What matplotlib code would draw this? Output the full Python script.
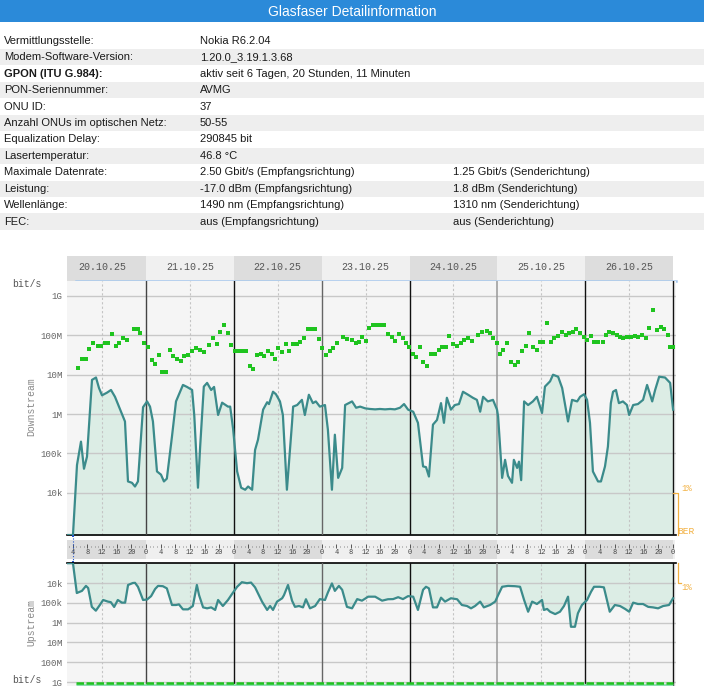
import matplotlib
matplotlib.use("Agg")
import matplotlib.pyplot as plt
from matplotlib.patches import Rectangle
from matplotlib.ticker import NullLocator

plt.rcParams['font.family'] = ['Liberation Sans', 'DejaVu Sans']
MONO = ['Liberation Mono', 'DejaVu Sans Mono']

W, H = 704, 691

# --- table ---
row_labels = ["Vermittlungsstelle:", "Modem-Software-Version:", "GPON (ITU G.984):",
              "PON-Seriennummer:", "ONU ID:", "Anzahl ONUs im optischen Netz:",
              "Equalization Delay:", "Lasertemperatur:", "Maximale Datenrate:",
              "Leistung:", "Wellenlänge:", "FEC:"]
row_values = ["Nokia R6.2.04", "1.20.0_3.19.1.3.68", "aktiv seit 6 Tagen, 20 Stunden, 11 Minuten",
              "AVMG", "37", "50-55", "290845 bit", "46.8 °C",
              "2.50 Gbit/s (Empfangsrichtung)", "-17.0 dBm (Empfangsrichtung)",
              "1490 nm (Empfangsrichtung)", "aus (Empfangsrichtung)"]
row_extra = ["", "", "", "", "", "", "", "",
             "1.25 Gbit/s (Senderichtung)", "1.8 dBm (Senderichtung)",
             "1310 nm (Senderichtung)", "aus (Senderichtung)"]

# --- chart ---
day_labels = ["20.10.25", "21.10.25", "22.10.25", "23.10.25", "24.10.25", "25.10.25", "26.10.25"]
ds_ticks = [1e4, 1e5, 1e6, 1e7, 1e8, 1e9]
ds_ticklabels = ["10k", "100k", "1M", "10M", "100M", "1G"]

# hours since 20.10.25 00:00
ds_hours = [2.4, 4.05, 5.15, 6.24, 7.06, 7.88, 9.25, 10.34, 11.16, 11.98, 13.34, 14.44, 15.53, 16.62,
            18.26, 19.08, 20.17, 21.0, 21.8, 23.2, 24.3, 25.1, 25.9, 27.0, 28.1, 28.9, 29.7, 31.1,
            32.2, 33.3, 34.1, 35.2, 36.6, 37.2, 38.2, 38.8, 39.8, 40.7, 41.8, 42.6, 43.7, 44.8,
            46.4, 47.0, 47.8, 48.9, 50.0, 51.1, 51.9, 53.0, 53.8, 54.6, 56.0, 57.1, 57.6, 58.7,
            59.5, 60.6, 61.4, 62.5, 63.9, 64.2, 65.3, 66.6, 67.4, 68.5, 69.6, 70.4, 71.5, 72.9,
            73.7, 74.8, 75.6, 76.5, 77.6, 78.4, 80.3, 81.4, 82.5, 83.9, 85.2, 86.6, 87.9, 89.3,
            90.7, 92.0, 93.4, 94.5, 95.6, 97.0, 98.3, 99.7, 100.5, 101.3, 102.4, 103.5, 104.6,
            105.4, 106.2, 107.3, 108.4, 109.5, 110.6, 112.0, 113.3, 114.4, 115.3, 116.1, 117.4,
            118.8, 119.9, 120.2, 121.3, 122.1, 122.9, 124.0, 124.5, 125.4, 125.9, 126.5, 127.3,
            128.4, 129.7, 130.8, 132.2, 133.0, 134.4, 135.2, 136.6, 137.7, 139.3, 140.4, 141.8,
            142.6, 143.7, 144.5, 145.3, 146.1, 147.5, 148.3, 149.4, 150.2, 151.0, 151.6, 152.4,
            153.2, 154.3, 155.4, 156.0, 157.1, 158.4, 159.8, 160.9, 162.3, 163.1, 164.2, 165.8,
            167.2, 168.0]
ds_kbit = [0.85, 0.85, 51, 200, 41, 83, 7400, 8500, 4600, 3000, 3500, 4100, 2750, 1550,
           650, 19.5, 18, 14.5, 19.5, 1500, 2100, 1550, 650, 35, 29, 19.5, 23, 270,
           2100, 3700, 5500, 4900, 4100, 900, 13.5, 150, 5000, 6200, 4100, 4900, 950, 1950,
           1550, 1550, 420, 35, 13.5, 12, 14.5, 12, 123, 224, 1300, 2000, 1800, 3700,
           3200, 2100, 950, 12, 600, 1550, 1700, 2300, 950, 3100, 1900, 2100, 1550, 1700,
           400, 12, 300, 24, 43, 1700, 2100, 1450, 1550, 1400, 1350, 1320, 1350, 1320,
           1350, 1320, 1450, 1800, 1300, 1150, 600, 47, 45, 26, 540, 710, 1900,
           600, 2600, 1300, 1700, 1800, 3700, 3100, 2600, 2300, 1150, 2750, 2100,
           2300, 1300, 870, 24, 69, 27, 18, 69, 43, 62, 21, 2100,
           1700, 2100, 2750, 1070, 5000, 6800, 10000, 8900, 4600, 650, 2300, 2100,
           2750, 3200, 2300, 600, 35, 19.5, 19.5, 47, 150, 1900, 3700, 4100,
           1900, 2100, 1700, 950, 1700, 1800, 2300, 5500, 2100, 4100, 8900, 8500,
           6200, 1300]

gr_hours = [5.4, 6.5, 7.6, 8.4, 9.5, 10.9, 11.7, 12.8, 13.6, 14.7, 15.8, 16.6, 17.7, 18.8, 20.7,
            21.8, 22.4, 23.5, 24.5, 25.6, 26.5, 27.6, 28.4, 29.5, 30.6, 31.4, 32.5, 33.6, 34.4,
            35.5, 36.6, 37.7, 38.8, 39.8, 41.2, 42.3, 43.4, 44.2, 45.3, 46.4, 47.2, 48.3, 49.1,
            50.2, 51.3, 52.4, 53.2, 54.3, 55.4, 56.2, 57.3, 58.4, 59.2, 60.1, 61.2, 62.3, 63.1,
            64.2, 65.3, 66.1, 67.2, 68.3, 69.4, 70.2, 71.3, 72.1, 73.2, 74.3, 75.1, 76.2, 77.8,
            78.9, 80.3, 81.4, 82.2, 83.0, 84.1, 84.9, 86.0, 87.1, 88.2, 89.0, 90.1, 91.2, 92.0,
            93.1, 94.2, 95.0, 95.9, 97.0, 97.8, 98.9, 99.7, 100.8, 101.9, 103.0, 104.1, 104.9,
            106.0, 106.8, 107.9, 109.0, 110.1, 110.9, 112.0, 113.1, 114.7, 115.8, 117.2, 118.0,
            118.8, 119.9, 120.7, 121.5, 122.6, 123.7, 124.8, 125.6, 126.7, 127.8, 128.6, 129.7,
            130.8, 131.7, 132.5, 133.6, 134.7, 135.5, 136.6, 137.7, 138.8, 139.6, 140.7, 141.5,
            142.6, 143.7, 144.5, 145.6, 146.4, 147.5, 148.9, 149.7, 150.5, 151.6, 152.7, 153.5,
            154.3, 155.4, 156.5, 157.6, 158.4, 159.5, 160.6, 161.4, 162.5, 163.6, 164.7, 165.5,
            166.6, 167.2, 168.0]
gr_mbit = [15, 25, 25, 45, 63, 54, 54, 65, 65, 110, 55, 63, 87, 76, 145,
           145, 115, 65, 50, 24, 19, 32, 12, 12, 43, 30, 25, 22, 30,
           32, 39, 48, 43, 38, 58, 87, 60, 123, 182, 115, 58, 41, 40,
           40, 41, 17, 14, 32, 33, 30, 41, 33, 25, 48, 38, 60, 40,
           60, 60, 69, 85, 148, 148, 148, 81, 49, 32, 40, 49, 63, 91,
           81, 76, 63, 69, 91, 72, 151, 182, 182, 182, 182, 110, 91, 72,
           110, 85, 65, 50, 33, 29, 51, 21, 17, 33, 33, 43, 50,
           51, 98, 60, 54, 65, 76, 85, 72, 102, 123, 129, 117,
           87, 63, 33, 43, 63, 21, 18, 21, 41, 54, 115, 51,
           43, 68, 68, 204, 68, 85, 95, 123, 102, 115, 123, 145,
           117, 91, 74, 95, 68, 68, 68, 102, 123, 115, 102, 93,
           85, 91, 93, 95, 91, 102, 85, 155, 437, 138, 166, 145,
           102, 50, 50]

us_hours = [2.4, 4.05, 5.1, 6.5, 7.6, 8.2, 9.2, 10.3, 11.2, 12.3, 13.6, 14.4, 15.3, 16.3, 17.4,
            18.3, 19.1, 20.4, 21.0, 21.8, 23.2, 24.3, 25.4, 26.5, 27.3, 28.6, 29.7, 31.1, 32.2,
            33.0, 34.1, 35.5, 36.8, 37.9, 38.5, 39.6, 40.7, 41.8, 42.9, 43.7, 45.0, 46.4, 47.5,
            48.9, 50.2, 51.6, 52.7, 53.8, 55.7, 57.1, 57.9, 58.7, 59.8, 61.2, 61.7, 62.8, 63.9,
            64.7, 65.8, 66.9, 67.7, 68.8, 70.2, 71.5, 72.9, 73.7, 74.8, 75.6, 76.7, 77.6, 78.9,
            80.3, 81.7, 83.0, 84.7, 86.6, 88.5, 90.1, 91.5, 92.9, 94.2, 95.6, 97.0, 98.3, 99.7,
            100.5, 101.3, 102.4, 103.5, 104.6, 105.7, 107.3, 109.0, 110.3, 111.7, 112.8, 113.9,
            115.3, 116.3, 118.0, 119.4, 120.2, 121.3, 122.9, 124.8, 126.2, 127.3, 128.4, 129.5,
            130.8, 132.2, 132.7, 133.6, 134.4, 135.8, 137.1, 138.2, 139.3, 140.1, 141.2, 142.0,
            143.1, 144.5, 145.6, 146.4, 148.0, 149.1, 150.7, 152.1, 153.5, 154.9, 156.0, 157.1,
            158.4, 159.8, 161.2, 162.5, 163.9, 165.3, 166.9, 168.0]
us_kbit = [1.0, 1.0, 32, 25, 14, 18, 160, 250, 145, 72, 87, 93, 162, 72, 98,
           98, 12.6, 10, 9.8, 15.5, 72, 68, 46, 20, 14, 14.5, 18.6, 129, 129,
           120, 214, 214, 145, 12.6, 41, 170, 190, 170, 229, 72, 145, 72, 36,
           15.5, 9.1, 10.2, 9.5, 16.6, 87, 229, 145, 229, 87, 59, 41, 12.6, 78,
           160, 145, 170, 66, 190, 145, 65, 72, 30, 10.5, 25, 14, 22, 160,
           190, 65, 78, 49, 49, 78, 66, 65, 52, 65, 46, 49, 229, 22,
           15.5, 18.6, 170, 170, 55, 87, 59, 66, 129, 145, 190, 145,
           87, 170, 129, 87, 41, 15.5, 14, 14.5, 15.5, 72, 282, 87,
           115, 72, 229, 204, 282, 372, 282, 145, 49, 1620, 1620, 339,
           129, 72, 27.5, 15.5, 15.5, 16.6, 282, 129, 145, 204, 282, 98,
           115, 115, 160, 170, 190, 145, 129, 59]
us_ticks = [1e4, 1e5, 1e6, 1e7, 1e8, 1e9]
us_ticklabels = ["10k", "100k", "1M", "10M", "100M", "1G"]
ug_hours = [5.0, 168.0]
ug_band_bps = [1.35e9, 1.35e9]
ug_bps = [1.12e9, 1.12e9]

ds_bps = [v * 1e3 for v in ds_kbit]
us_bps = [v * 1e3 for v in us_kbit]
gr_bps = [v * 1e6 for v in gr_mbit]

X0, X1 = 2.42, 168.8
LINE = "#3b8b8b"
FILL = "#dcede5"
GREEN = "#1fc41f"
ORANGE = "#f2b040"

fig = plt.figure(figsize=(W / 100, H / 100), dpi=100)
fig.patch.set_facecolor("white")


def px_axes(x0, y0, x1, y1, **kw):
    return fig.add_axes([x0 / W, 1 - y1 / H, (x1 - x0) / W, (y1 - y0) / H], **kw)


# header + table
bg = px_axes(0, 0, W, H)
bg.set_xlim(0, W)
bg.set_ylim(H, 0)
bg.axis("off")
bg.add_patch(Rectangle((0, 0), W, 22, color="#2b8ad9", lw=0))
bg.text(W / 2, 11.5, "Glasfaser Detailinformation", color="white", ha="center", va="center", fontsize=10)
for i, (lab, val, ext) in enumerate(zip(row_labels, row_values, row_extra)):
    yc = 40.7 + 16.45 * i
    if i % 2 == 1:
        bg.add_patch(Rectangle((0, yc - 8.2), W, 16.4, color="#eeeeee", lw=0))
    bg.text(4, yc, lab, va="center", fontsize=8, color="#1a1a1a",
            fontweight="bold" if lab.startswith("GPON") else "normal")
    bg.text(200, yc, val, va="center", fontsize=8, color="#1a1a1a")
    if ext:
        bg.text(453, yc, ext, va="center", fontsize=8, color="#1a1a1a")

# date tabs
db = px_axes(67, 256, 676, 281)
db.set_xlim(X0, X1)
db.set_ylim(281, 256)
db.axis("off")
for i, lab in enumerate(day_labels):
    xs = max(X0, 24 * i)
    db.add_patch(Rectangle((xs, 256), 24 * (i + 1) - xs, 25,
                           color="#dddddd" if i % 2 == 0 else "#f0f0f0", lw=0))
    db.text(12 + 24 * i, 267.5, lab, ha="center", va="center", fontsize=7.2, family=MONO, color="#555555")
db.plot([5, X1], [280.5, 280.5], color="#a6c8ee", lw=1.8, clip_on=False)

day_line_colors = ["#444444", "#111111", "#666666", "#111111", "#999999", "#111111", "#111111"]


def style_panel(ax, ticks, labels):
    ax.set_facecolor("#f5f5f5")
    ax.set_yscale("log")
    ax.set_xlim(X0, X1)
    ax.set_xticks([])
    ax.yaxis.set_minor_locator(NullLocator())
    ax.set_yticks(ticks, labels, fontfamily=MONO)
    ax.tick_params(axis="y", length=0, pad=3, labelsize=6.6, labelcolor="#666666")
    for v in ticks:
        ax.axhline(v, color="#c8c8c8", lw=1, zorder=2)
    for d in range(1, 8):
        ax.axvline(24 * d, color=day_line_colors[d - 1], lw=1.1 if d == 5 else 1, zorder=3)
    for d in range(7):
        ax.axvline(12 + 24 * d, color="#c4c4c4", lw=0.8, ls=(0, (2, 2)), zorder=2)
    for s in ["left", "right", "top", "bottom"]:
        ax.spines[s].set_visible(False)


# downstream
ds = px_axes(67, 281, 676, 535)
style_panel(ds, ds_ticks, ds_ticklabels)
ds.set_ylim(10 ** 2.93, 10 ** 9.38)
ds.fill_between(ds_hours, ds_bps, 1, color=FILL, lw=0, zorder=1)
ds.plot(ds_hours, ds_bps, color=LINE, lw=1.6, zorder=4)
ds.plot(gr_hours, gr_bps, "s", color=GREEN, ms=2.7, mew=0, zorder=5)
ds.spines["bottom"].set_visible(True)
ds.spines["bottom"].set_color("black")
ds.spines["bottom"].set_linewidth(1.2)

# hour axis band
hb = px_axes(67, 535, 676, 563)
hb.set_xlim(X0, X1)
hb.set_ylim(563, 535)
hb.axis("off")
hb.add_patch(Rectangle((X0, 540), X1 - 0.3 - X0, 19, color="#efefef", lw=0))
for i in range(0, 7, 2):
    xs = max(X0, 24 * i)
    hb.add_patch(Rectangle((xs, 540), 24 * (i + 1) - xs, 19, color="#dcdcdc", lw=0))
hb.vlines(range(3, 169), 545.6, 546.5, color="#777777", lw=0.6)
hb.vlines(range(4, 169, 4), 544.0, 547.5, color="#555555", lw=0.7)
for h in range(4, 169, 4):
    hb.text(h, 552, str(h % 24), ha="center", va="center", fontsize=5, family=MONO, color="#444444")
hb.vlines(4, 535, 563, color="#2255cc", lw=0.8, linestyles=":")
hb.plot([4, 4], [535.8, 562.2], "s", color="#2255cc", ms=2, mew=0, clip_on=False)

# upstream
us = px_axes(67, 563, 676, 686)
style_panel(us, us_ticks, us_ticklabels)
us.set_ylim(10 ** 9.2, 10 ** 2.99)
us.fill_between(us_hours, us_bps, 10, color=FILL, lw=0, zorder=1)
us.plot(us_hours, us_bps, color=LINE, lw=1.6, zorder=4)
us.plot(ug_hours, ug_band_bps, color="#8fdcb0", lw=2.4, zorder=4, solid_capstyle="butt")
us.plot(ug_hours, ug_bps, color=GREEN, lw=1.8, ls=(0, (3, 1)), zorder=5)
us.spines["top"].set_visible(True)
us.spines["top"].set_color("black")
us.spines["top"].set_linewidth(1.2)

# overlay labels
ov = px_axes(0, 0, W, H, zorder=10)
ov.set_xlim(0, W)
ov.set_ylim(H, 0)
ov.patch.set_alpha(0)
ov.axis("off")
ov.text(12, 284, "bit/s", va="center", fontsize=7, family=MONO, color="#555555")
ov.text(12, 680, "bit/s", va="center", fontsize=7, family=MONO, color="#555555")
ov.text(31, 407, "Downstream", rotation=90, ha="center", va="center", fontsize=7, family=MONO, color="#888888")
ov.text(31, 623, "Upstream", rotation=90, ha="center", va="center", fontsize=7, family=MONO, color="#888888")
ov.plot([673, 677.5, 677.5], [493, 493, 535], color=ORANGE, lw=0.9)
ov.plot([677.5, 677.5, 681], [563, 583, 583], color=ORANGE, lw=0.9)
ov.text(681, 488, "1%", va="center", fontsize=6.5, family=MONO, color=ORANGE)
ov.text(677, 531, "BER", va="center", fontsize=6.8, family=MONO, color=ORANGE)
ov.text(681, 588, "1%", va="center", fontsize=6.5, family=MONO, color=ORANGE)

fig.savefig("out.png", dpi=100)
